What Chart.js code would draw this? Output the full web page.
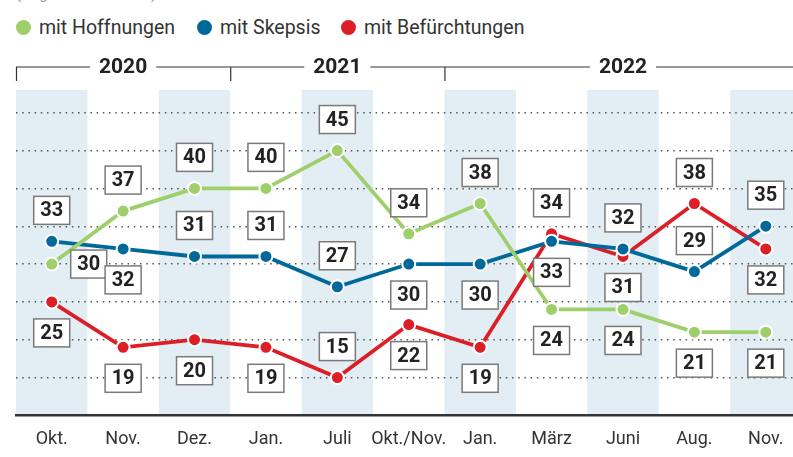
<!DOCTYPE html>
<html>
<head>
<meta charset="utf-8">
<script src="https://cdn.jsdelivr.net/npm/chart.js@4/dist/chart.umd.min.js"></script>
<style>
  html, body { margin: 0; padding: 0; background: #fff; overflow: hidden; width: 793px; height: 457px; }
  #wrap { position: relative; width: 810px; height: 457px; }
  .note { position: absolute; left: 16px; top: -15px; font: 15px Roboto, sans-serif; color: #999; white-space: nowrap; }
  .item { position: absolute; top: 15px; font: 19.5px Roboto, sans-serif; color: #333; white-space: nowrap; line-height: 26px; }
  .dot { display: inline-block; width: 15px; height: 15px; border-radius: 50%; vertical-align: -1px; margin-right: 8px; }
  canvas { position: absolute; left: 0; top: 0; }
</style>
</head>
<body>
<div id="wrap">
  <div class="note">(Angaben in Prozent)</div>
  <div class="item" style="left:16px"><span class="dot" style="background:#9fcf6b"></span>mit Hoffnungen</div>
  <div class="item" style="left:197px"><span class="dot" style="background:#00699a"></span>mit Skepsis</div>
  <div class="item" style="left:341px"><span class="dot" style="background:#dc1f26"></span>mit Befürchtungen</div>
  <canvas id="chart" width="810" height="457"></canvas>
</div>
<script>
const months = ['Okt.', 'Nov.', 'Dez.', 'Jan.', 'Juli', 'Okt./Nov.', 'Jan.', 'März', 'Juni', 'Aug.', 'Nov.']
const years = ['2020', '2021', '2022']
const yearStart = [0, 3, 6]

const hope = [30, 37, 40, 40, 45, 34, 38, 24, 24, 21, 21]
const skepsis = [33, 32, 31, 31, 27, 30, 30, 33, 32, 29, 35]
const fear = [25, 19, 20, 19, 15, 22, 19, 34, 31, 38, 32]

// where the value box sits: a = above, b = below, r = right
const hopePos = ['r', 'a', 'a', 'a', 'a', 'a', 'a', 'b', 'b', 'b', 'b']
const skepsisPos = ['a', 'b', 'a', 'a', 'a', 'b', 'b', 'b', 'a', 'a', 'a']
const fearPos = ['b', 'b', 'b', 'b', 'a', 'b', 'b', 'a', 'b', 'a', 'b']

const GREEN = '#9fcf6b'
const BLUE = '#00699a'
const RED = '#dc1f26'
const SHADE = '#e2edf4'

function series(data, color, pos) {
  return {
    data: data,
    labelPos: pos,
    borderColor: color,
    backgroundColor: color,
    borderWidth: 3.8,
    pointRadius: 6.5,
    pointBorderColor: '#fff',
    pointBorderWidth: 2,
    pointBackgroundColor: color,
    tension: 0,
  }
}

function binWidth(scale) {
  return (scale.right - scale.left) / months.length
}

const shading = {
  id: 'shading',
  beforeDraw(chart) {
    const ctx = chart.ctx
    const x = chart.scales.x
    const area = chart.chartArea
    const w = binWidth(x)
    ctx.save()
    ctx.fillStyle = SHADE
    months.forEach((m, i) => {
      if (i % 2 !== 0) return
      const cx = x.getPixelForValue(i)
      ctx.fillRect(cx - w / 2, area.top, w, area.bottom - area.top)
    })
    ctx.restore()
  }
}

const yearHeader = {
  id: 'yearHeader',
  afterDraw(chart) {
    const ctx = chart.ctx
    const x = chart.scales.x
    const w = binWidth(x)
    const y = 67
    ctx.save()
    ctx.font = 'bold 21px Roboto'
    ctx.textAlign = 'center'
    ctx.textBaseline = 'middle'
    ctx.strokeStyle = '#333'
    ctx.lineWidth = 1.2
    ctx.fillStyle = '#222'
    years.forEach((yr, k) => {
      const x0 = x.getPixelForValue(yearStart[k]) - w / 2
      const x1 = k + 1 < years.length ? x.getPixelForValue(yearStart[k + 1]) - w / 2 : x.right
      const mid = (x0 + x1) / 2
      const half = ctx.measureText(yr).width / 2 + 9
      ctx.beginPath()
      ctx.moveTo(x0 + 0.5, 81)
      ctx.lineTo(x0 + 0.5, y)
      ctx.lineTo(mid - half, y)
      ctx.moveTo(mid + half, y)
      ctx.lineTo(x1, y)
      ctx.stroke()
      ctx.fillText(yr, mid, y + 1)
    })
    ctx.restore()
  }
}

const boxLabels = {
  id: 'boxLabels',
  afterDatasetsDraw(chart) {
    const ctx = chart.ctx
    const bw = 36, bh = 28
    ctx.save()
    ctx.font = 'bold 20px Roboto'
    ctx.textAlign = 'center'
    ctx.textBaseline = 'middle'
    chart.data.datasets.forEach((ds, di) => {
      const meta = chart.getDatasetMeta(di)
      meta.data.forEach((pt, i) => {
        const pos = ds.labelPos[i]
        let cx = pt.x, cy = pt.y
        if (pos === 'a') cy -= 31
        else if (pos === 'b') cy += 31
        else cx += 37
        ctx.fillStyle = '#fff'
        ctx.fillRect(cx - bw / 2, cy - bh / 2, bw, bh)
        ctx.strokeStyle = '#7a7a7a'
        ctx.lineWidth = 1.5
        ctx.strokeRect(cx - bw / 2, cy - bh / 2, bw, bh)
        ctx.fillStyle = '#222'
        ctx.fillText(String(ds.data[i]), cx, cy + 1)
      })
    })
    ctx.restore()
  }
}

new Chart(document.getElementById('chart'), {
  type: 'line',
  data: {
    labels: months,
    datasets: [
      series(hope, GREEN, hopePos),
      series(skepsis, BLUE, skepsisPos),
      series(fear, RED, fearPos),
    ]
  },
  options: {
    responsive: false,
    animation: false,
    layout: { padding: { left: 16, right: 8, top: 90, bottom: -6 } },
    plugins: { legend: { display: false }, tooltip: { enabled: false } },
    scales: {
      x: {
        offset: true,
        grid: { color: 'rgba(0,0,0,0)', drawTicks: false },
        border: { display: true, color: '#333', width: 2.5 },
        ticks: { color: '#333', font: { family: 'Roboto', size: 18 }, padding: 13, maxRotation: 0, autoSkip: false }
      },
      y: {
        min: 10,
        max: 53,
        ticks: { display: false, stepSize: 5 },
        border: { display: false, dash: [1.5, 4.7] },
        grid: {
          drawTicks: false,
          lineWidth: 1.4,
          color: (c) => (c.tick && c.tick.value >= 15 && c.tick.value <= 50) ? '#555' : 'rgba(0,0,0,0)'
        }
      }
    }
  },
  plugins: [shading, yearHeader, boxLabels]
})
</script>
</body>
</html>
